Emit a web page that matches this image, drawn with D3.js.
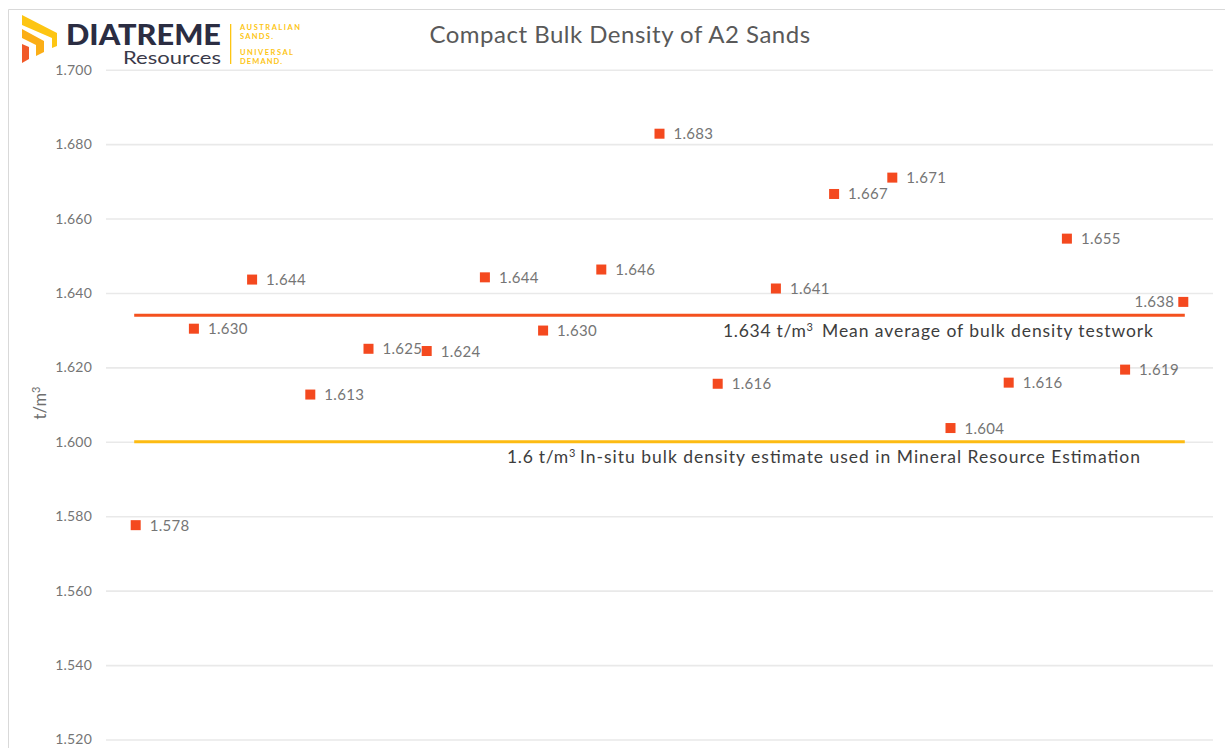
<!DOCTYPE html>
<html><head><meta charset="utf-8">
<script src="https://cdn.jsdelivr.net/npm/d3@7/dist/d3.min.js"></script>
<style>html,body{margin:0;padding:0;background:#fff;overflow:hidden}svg{display:block}text{font-family:Lato,sans-serif}</style>
</head><body><div id="c"></div>
<script>
const sampleIds = d3.range(1, 20);
const densities = [1.5776,1.6304,1.6436,1.6127,1.6250,1.6244,1.6442,1.6299,1.6463,1.6828,1.6156,1.6412,1.6666,1.6710,1.6037,1.6159,1.6546,1.6194,1.6376];
const yTicks = [1.70,1.68,1.66,1.64,1.62,1.60,1.58,1.56,1.54,1.52];
const meanValue = 1.634;
const insituValue = 1.6;
const chartTitle = "Compact Bulk Density of A2 Sands";

const W=1225,H=748;
const svg=d3.select("#c").append("svg").attr("width",W).attr("height",H);
const x=d3.scalePoint().domain(sampleIds).range([135.7,1183.3]);
const y=d3.scaleLinear().domain([1.52,1.70]).range([739.5,69.7]);

// frame
svg.append("path").attr("d",`M8.5,748V9.5H1225`).attr("fill","none").attr("stroke","#d9d9d9").attr("stroke-width",1);

// axis
const ax=svg.append("g").attr("transform","translate(106,0)")
 .call(d3.axisLeft(y).tickValues(yTicks).tickFormat(d3.format(".3f")).tickSize(-1107).tickPadding(14));
ax.select(".domain").remove();
ax.selectAll("line").attr("stroke","#e9e9e9").attr("stroke-width",1.6);
ax.selectAll("text").attr("fill","#757575").attr("font-size",14).attr("letter-spacing",0.2);

// y title
const yt=svg.append("text").attr("transform","translate(46,403) rotate(-90)").attr("text-anchor","middle").attr("fill","#6f6f6f").attr("font-size",16.5);
yt.append("tspan").text("t/m");
yt.append("tspan").text("3").attr("font-size",11).attr("dy",-6);

// title
svg.append("text").attr("x",620).attr("y",43).attr("text-anchor","middle").attr("fill","#595959").attr("font-size",24).attr("letter-spacing",0.5).text(chartTitle);

// reference lines
const line=d3.line().x(d=>d[0]).y(d=>y(d[1]));
const [x0,x1]=[x(sampleIds[0])-1.5,x(sampleIds[sampleIds.length-1])+1.5];
svg.append("path").attr("d",line([[x0,meanValue],[x1,meanValue]])).attr("stroke","#f4511e").attr("stroke-width",3).attr("fill","none");
svg.append("path").attr("d",line([[x0,insituValue],[x1,insituValue]])).attr("stroke","#fdbb12").attr("stroke-width",3).attr("fill","none");

// reference line notes
function note(xp,yp,a,b,bx,len){
  const t=svg.append("text").attr("x",xp).attr("y",yp).attr("fill","#3d3d3d").attr("font-size",17.5).attr("letter-spacing",0.7);
  t.append("tspan").text(a);
  t.append("tspan").text("3").attr("font-size",11).attr("dy",-6);
  svg.append("text").attr("x",bx).attr("y",yp).attr("fill","#3d3d3d").attr("font-size",17.5).attr("textLength",len).text(b);
}
note(723,y(meanValue)+22,"1.634 t/m","Mean average of bulk density testwork",822,331);
note(507,y(insituValue)+21,"1.6 t/m","In-situ bulk density estimate used in Mineral Resource Estimation",580,560);

// points
const pts=sampleIds.map((id,i)=>({id,v:densities[i]}));
svg.append("g").selectAll("rect").data(pts).join("rect")
 .attr("x",d=>x(d.id)-5).attr("y",d=>y(d.v)-5).attr("width",10).attr("height",10).attr("fill","#f4491f");
svg.append("g").selectAll("text").data(pts).join("text")
 .attr("x",d=>d.id===19?x(d.id)-9:x(d.id)+14)
 .attr("y",d=>y(d.v)+5.5)
 .attr("text-anchor",d=>d.id===19?"end":"start")
 .attr("fill","#757575").attr("font-size",15).attr("letter-spacing",0.3)
 .text(d=>d3.format(".3f")(d.v));

// logo
const lg=svg.append("g");
lg.append("path").attr("d","M22,15 L57,33 L57,46 L52,48 L52,38 L22,25Z").attr("fill","#fdc513");
lg.append("path").attr("d","M22,29 L44,41 L44,52 L36,56 L36,45 L22,38Z").attr("fill","#fbae17");
lg.append("path").attr("d","M22,44 L29,47 L29,59 L22,63Z").attr("fill","#f15a29");
lg.append("text").attr("x",66).attr("y",45).attr("fill","#2b2d42").attr("font-size",29).attr("font-weight",900).attr("textLength",155).attr("lengthAdjust","spacingAndGlyphs").text("DIATREME");
lg.append("text").attr("x",123).attr("y",64).attr("fill","#3a3a4a").attr("font-size",17.5).attr("textLength",98).attr("lengthAdjust","spacingAndGlyphs").text("Resources");
lg.append("rect").attr("x",230).attr("y",24).attr("width",1.3).attr("height",40).attr("fill","#fdc513");
[["AUSTRALIAN",30,60],["SANDS.",39,33],["UNIVERSAL",55,53],["DEMAND.",64,42]].forEach(([s,yy,w])=>{
  lg.append("text").attr("x",240).attr("y",yy).attr("fill","#fdc513").attr("font-size",7.5).attr("font-weight",700).attr("textLength",w).text(s);
});
</script></body></html>
